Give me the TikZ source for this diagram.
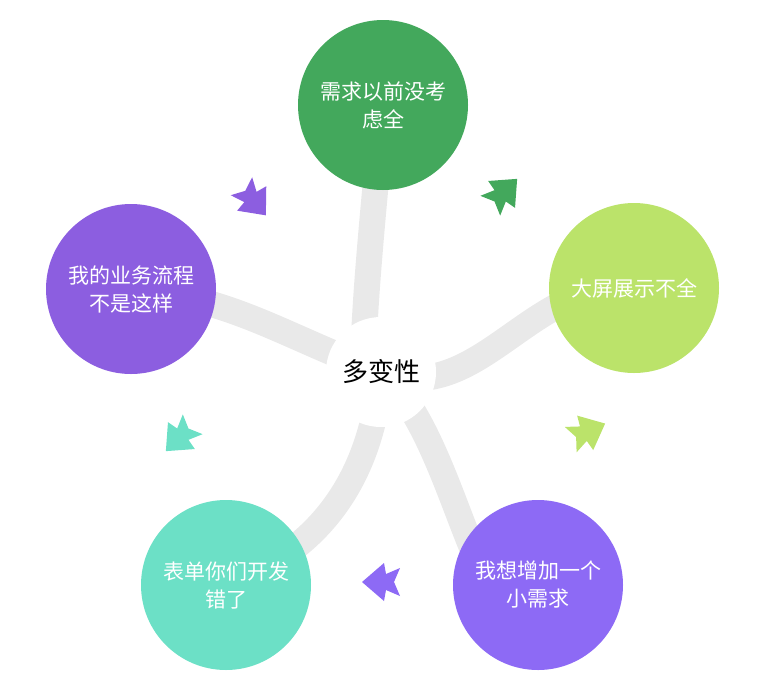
\documentclass[tikz,border=0pt]{standalone}
\usepackage{fontspec}
\setmainfont{Noto Sans CJK SC}
\usetikzlibrary{positioning,backgrounds}
\definecolor{reqgreen}{RGB}{67,168,92}
\definecolor{scrlime}{RGB}{187,227,106}
\definecolor{addviolet}{RGB}{141,106,245}
\definecolor{frmteal}{RGB}{108,224,198}
\definecolor{bizpurple}{RGB}{140,94,224}
\tikzset{
    topic/.style={
        circle,
        minimum size=170pt,
        inner sep=0pt,
        text=white,
        align=center,
        font=\fontsize{21}{28}\selectfont
    },
    swirl/.style={
        draw=gray!17,
        line width=26pt
    }
}
% notched block arrow: #1 position, #2 angle, #3 colour
\newcommand{\flowarrow}[3]{%
  \fill[#3, shift={#1}, rotate=#2]
    (20,0) -- (-2,-19) -- (-4,-8) -- (-18,-14) -- (-12,0)
    -- (-18,14) -- (-4,8) -- (-2,19) -- cycle;}

\begin{document}
\begin{tikzpicture}[x=1pt, y=-1pt]
    \useasboundingbox (0,0) rectangle (784,694);
    % Topics
    \node[topic, fill=reqgreen] (req) at (383,105) {需求以前没考\\虑全};
    \node[topic, fill=scrlime] (scr) at (634,288) {大屏展示不全};
    \node[topic, fill=addviolet] (add) at (538,585) {我想增加一个\\小需求};
    \node[topic, fill=frmteal] (frm) at (226,585) {表单你们开发\\错了};
    \node[topic, fill=bizpurple] (biz) at (131,289) {我的业务流程\\不是这样};
    \node[circle, fill=white, minimum size=110pt, font=\fontsize{26}{30}\selectfont] (mid) at (381,372) {多变性};

    % Swirls
    \begin{scope}[on background layer]
    \draw[swirl] (mid.center) to[out=-110, in=-95] (req.center);
    \draw[swirl] (mid.center) to[out=-20, in=175] (scr.center);
    \draw[swirl] (mid.center) to[out=-40, in=-125] (add.center);
    \draw[swirl] (mid.center) to[out=-95, in=20] (frm.center);
    \draw[swirl] (mid.center) to[out=160, in=-5] (biz.center);
    \end{scope}

    % Arrows
    \flowarrow{(503,193)}{45}{reqgreen}
    \flowarrow{(587,432)}{25}{scrlime}
    \flowarrow{(382,582)}{180}{addviolet}
    \flowarrow{(180,437)}{-135}{frmteal}
    \flowarrow{(253,200)}{-50}{bizpurple}
\end{tikzpicture}
\end{document}
